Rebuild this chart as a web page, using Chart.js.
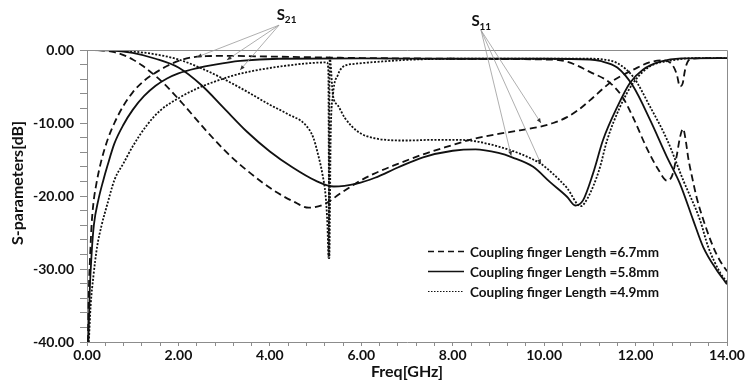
<!DOCTYPE html>
<html>
<head>
<meta charset="utf-8">
<title>S-parameters</title>
<script src="https://cdn.jsdelivr.net/npm/chart.js@4.4.1/dist/chart.umd.min.js"></script>
<style>
  html, body { margin: 0; padding: 0; background: #fff; }
  #wrap { width: 746px; height: 384px; position: relative; }
</style>
</head>
<body>
<div id="wrap"><canvas id="chart-sparams"></canvas></div>
<script>
// values: frequency in GHz, level in dB

// S11, coupling finger 6.7mm (dashed)
const s11LongFreq = [0, 0.3, 0.6, 0.8, 1.0, 1.2, 1.45, 1.7, 2.1, 2.6, 3.1, 3.6, 4.1, 4.5, 4.85, 5.2, 5.53, 5.9, 6.26, 6.8, 7.35, 7.9, 8.44, 9.0, 9.47, 9.91, 10.2, 10.5, 10.75, 11.0, 11.44, 11.7, 11.95, 12.3, 12.6, 12.8, 12.9, 12.97, 13.03, 13.08, 13.14, 13.25, 13.6, 14.0];
const s11LongDb = [0, -0.05, -0.3, -0.7, -1.3, -2.1, -3.3, -4.7, -7.4, -11.0, -14.3, -17.0, -19.3, -20.7, -21.6, -21.1, -19.7, -18.2, -17.0, -15.6, -14.3, -13.2, -12.2, -11.5, -11.0, -10.5, -10.0, -9.2, -8.2, -6.9, -4.5, -3.5, -2.7, -1.7, -1.4, -2.0, -3.3, -5.0, -4.6, -2.8, -1.6, -1.2, -1.1, -1.1];

// S21, coupling finger 6.7mm (dashed)
const s21LongFreq = [0.02, 0.04, 0.07, 0.1, 0.14, 0.2, 0.3, 0.45, 0.6, 0.8, 1.0, 1.25, 1.5, 1.75, 2.0, 2.3, 2.6, 3.0, 4.0, 5.0, 6.0, 7.0, 8.0, 9.0, 10.0, 10.5, 11.0, 11.44, 11.73, 11.95, 12.25, 12.5, 12.69, 12.8, 12.9, 12.97, 13.04, 13.1, 13.15, 13.25, 13.34, 13.5, 13.7, 13.85, 14.0];
const s21LongDb = [-40, -33, -28, -24, -21, -18.5, -15.5, -12.3, -10.0, -7.6, -5.8, -4.2, -3.1, -2.2, -1.5, -1.0, -0.85, -0.8, -0.9, -1.0, -1.1, -1.15, -1.2, -1.25, -1.3, -1.6, -3.0, -4.5, -6.6, -9.3, -13.5, -16.4, -17.9, -17.2, -14.5, -12.0, -10.8, -12.5, -14.7, -17.8, -20.3, -23.6, -27.0, -28.9, -30.3];

// S11, coupling finger 5.8mm (solid)
const s11MidFreq = [0, 0.5, 1.0, 1.5, 2.0, 2.5, 3.0, 3.5, 4.0, 4.5, 5.0, 5.4, 5.9, 6.3, 6.8, 7.35, 8.0, 8.5, 9.0, 9.3, 9.76, 10.13, 10.5, 10.68, 10.85, 11.07, 11.29, 11.6, 11.88, 12.16, 12.54, 13.0, 14.0];
const s11MidDb = [0, -0.05, -0.4, -1.2, -2.4, -4.8, -8.0, -11.2, -13.9, -16.1, -17.9, -18.7, -18.3, -17.5, -16.1, -14.7, -13.8, -13.6, -14.1, -14.7, -16.0, -18.1, -20.1, -21.3, -20.6, -16.9, -12.3, -7.8, -4.5, -2.7, -1.6, -1.15, -1.1];

// S21, coupling finger 5.8mm (solid)
const s21MidFreq = [0.03, 0.06, 0.1, 0.15, 0.25, 0.35, 0.45, 0.6, 0.8, 1.0, 1.25, 1.5, 1.75, 2.0, 2.4, 2.8, 3.35, 4.2, 6.0, 8.0, 10.0, 11.0, 11.22, 11.6, 11.95, 12.32, 12.69, 12.97, 13.26, 13.48, 13.78, 13.92, 14.0];
const s21MidDb = [-40, -33, -28, -24, -20.5, -18.0, -15.8, -12.8, -10.2, -8.2, -6.3, -4.9, -3.9, -3.2, -2.5, -2.0, -1.5, -1.2, -1.15, -1.2, -1.2, -1.3, -1.5, -2.4, -5.0, -9.6, -14.7, -18.3, -23.3, -27.0, -30.2, -31.4, -32.1];

// S11, coupling finger 4.9mm (dotted)
const s11ShortFreq = [0, 0.5, 1.0, 1.5, 2.0, 2.5, 3.0, 3.5, 4.0, 4.4, 4.77, 4.95, 5.05, 5.15, 5.22, 5.26, 5.285, 5.31, 5.38, 5.49, 5.64, 5.93, 6.3, 7.0, 7.6, 8.1, 8.5, 8.8, 9.04, 9.47, 9.93, 10.2, 10.5, 10.8, 10.95, 11.2, 11.38, 11.66, 11.95, 12.3, 12.82, 13.3, 14.0];
const s11ShortDb = [0, -0.03, -0.2, -0.6, -1.3, -2.5, -4.0, -5.7, -7.5, -8.8, -10.2, -12.0, -14.2, -17.0, -20.0, -24.0, -28.5, -1.0, -6.2, -7.6, -9.3, -11.2, -12.1, -12.4, -12.3, -12.3, -12.5, -12.9, -13.3, -14.2, -15.6, -17.0, -18.9, -21.4, -20.3, -16.5, -12.3, -7.8, -4.5, -2.3, -1.4, -1.1, -1.1];

// S21, coupling finger 4.9mm (dotted)
const s21ShortFreq = [0.04, 0.08, 0.14, 0.22, 0.32, 0.45, 0.6, 0.8, 1.0, 1.31, 1.6, 2.03, 2.4, 2.76, 3.2, 3.6, 4.3, 4.88, 5.25, 5.28, 5.3, 5.33, 5.38, 5.49, 5.6, 5.86, 6.4, 7.0, 8.0, 10.0, 11.0, 11.3, 11.6, 11.95, 12.32, 12.69, 13.04, 13.41, 13.59, 13.85, 14.0];
const s21ShortDb = [-40, -35, -31, -27, -24, -21, -17.8, -15.5, -13.2, -10.3, -8.3, -6.5, -5.3, -4.4, -3.5, -2.9, -2.2, -1.8, -1.7, -3.0, -28.5, -12.0, -6.2, -3.4, -2.3, -1.9, -1.6, -1.35, -1.2, -1.2, -1.2, -1.3, -1.8, -3.7, -7.8, -12.3, -17.8, -23.3, -27.0, -30.5, -31.8];

// axis ticks
const xLabelTicks = [0, 2, 4, 6, 8, 10, 12, 14];
const yLabelTicks = [0, -10, -20, -30, -40];

// legend entries (one per finger length)
const legendLabels = ['Coupling finger Length =6.7mm', 'Coupling finger Length =5.8mm', 'Coupling finger Length =4.9mm'];

// callout anchors in data units [GHz, dB]
const s21Callout = { label: [4.24, 4.8], from: [4.2, 3.4], tips: [[2.41, -0.96], [3.06, -1.37], [3.35, -2.74]] };
const s11Callout = { label: [8.5, 3.9], from: [8.62, 2.7], tips: [[9.93, -10.0], [9.28, -14.5], [9.93, -15.6]] };

const INK = '#111111';
const FRAME = '#8c8c8c';
const DASHES = [[7, 4], [], [2, 1.6]];
const LEGEND_DASHES = [[6, 4], [], [1.5, 1.5]];

function toPoints(freq, db) {
    return freq.map(function(f, i) { return { x: f, y: db[i] }; });
}

function line(label, freq, db, styleIndex) {
    return {
        label: label,
        data: toPoints(freq, db),
        borderColor: INK,
        borderWidth: 1.8,
        borderDash: DASHES[styleIndex],
        pointRadius: 0,
        fill: false,
        cubicInterpolationMode: 'monotone'
    };
}

// frame, y title, legend and S11/S21 callouts
const decorPlugin = {
    id: 'decor',
    afterDraw: function(chart) {
        const ctx = chart.ctx;
        const a = chart.chartArea;
        const xs = chart.scales.x;
        const ys = chart.scales.y;
        ctx.save();

        // top and right frame lines
        ctx.strokeStyle = FRAME;
        ctx.lineWidth = 1;
        ctx.setLineDash([]);
        ctx.beginPath();
        ctx.moveTo(a.left, a.top + 0.5);
        ctx.lineTo(a.right + 0.5, a.top + 0.5);
        ctx.lineTo(a.right + 0.5, a.bottom);
        ctx.stroke();

        // y axis title, sits a little above the axis middle
        ctx.save();
        ctx.translate(18, a.top + 133);
        ctx.rotate(-Math.PI / 2);
        ctx.fillStyle = INK;
        ctx.font = 'bold 16px Lato';
        ctx.textAlign = 'center';
        ctx.textBaseline = 'middle';
        ctx.fillText('S-parameters[dB]', 0, 0);
        ctx.restore();

        // legend in the lower right of the plot
        const lx0 = a.left + 341, lx1 = a.left + 377, tx = a.left + 383;
        legendLabels.forEach(function(text, i) {
            const ly = a.top + 201 + i * 20;
            ctx.strokeStyle = INK;
            ctx.lineWidth = i === 2 ? 1.2 : 1.6;
            ctx.setLineDash(LEGEND_DASHES[i]);
            ctx.beginPath();
            ctx.moveTo(lx0, ly + 0.5);
            ctx.lineTo(lx1, ly + 0.5);
            ctx.stroke();
            ctx.setLineDash([]);
            ctx.fillStyle = INK;
            ctx.font = 'bold 14px Lato';
            ctx.textAlign = 'left';
            ctx.textBaseline = 'middle';
            ctx.fillText(text, tx, ly + 1, 189);
        });

        // callouts
        function callout(c, sub) {
            const fx = xs.getPixelForValue(c.from[0]);
            const fy = ys.getPixelForValue(c.from[1]);
            c.tips.forEach(function(t) {
                const px = xs.getPixelForValue(t[0]);
                const py = ys.getPixelForValue(t[1]);
                ctx.strokeStyle = '#9a9a9a';
                ctx.lineWidth = 0.8;
                ctx.setLineDash([]);
                ctx.beginPath();
                ctx.moveTo(fx, fy);
                ctx.lineTo(px, py);
                ctx.stroke();
                // small arrow head
                const ang = Math.atan2(py - fy, px - fx);
                ctx.fillStyle = '#333';
                ctx.beginPath();
                ctx.moveTo(px, py);
                ctx.lineTo(px - 5 * Math.cos(ang - 0.4), py - 5 * Math.sin(ang - 0.4));
                ctx.lineTo(px - 5 * Math.cos(ang + 0.4), py - 5 * Math.sin(ang + 0.4));
                ctx.closePath();
                ctx.fill();
            });
            const sx = xs.getPixelForValue(c.label[0]);
            const sy = ys.getPixelForValue(c.label[1]);
            ctx.fillStyle = INK;
            ctx.textBaseline = 'middle';
            ctx.textAlign = 'center';
            ctx.font = 'bold 15px Lato';
            ctx.fillText('S', sx, sy);
            ctx.textAlign = 'left';
            ctx.font = 'bold 10px Lato';
            ctx.fillText(sub, sx + 4, sy + 5);
        }
        callout(s21Callout, '21');
        callout(s11Callout, '11');

        ctx.restore();
    }
};

document.addEventListener('DOMContentLoaded', function() {
    const ctx = document.getElementById('chart-sparams').getContext('2d');

    new Chart(ctx, {
        type: 'line',
        data: {
            datasets: [
                line('S11 6.7mm', s11LongFreq, s11LongDb, 0),
                line('S21 6.7mm', s21LongFreq, s21LongDb, 0),
                line('S11 5.8mm', s11MidFreq, s11MidDb, 1),
                line('S21 5.8mm', s21MidFreq, s21MidDb, 1),
                line('S11 4.9mm', s11ShortFreq, s11ShortDb, 2),
                line('S21 4.9mm', s21ShortFreq, s21ShortDb, 2)
            ]
        },
        options: {
            responsive: true,
            maintainAspectRatio: false,
            animation: false,
            layout: {
                padding: { left: 0, top: 50, right: 19, bottom: 0 }
            },
            plugins: {
                legend: { display: false },
                tooltip: { enabled: false }
            },
            scales: {
                x: {
                    type: 'linear',
                    min: 0,
                    max: 14,
                    afterBuildTicks: function(axis) {
                        const ticks = [];
                        for (let i = 0; i <= 35; i++) ticks.push({ value: Math.round(i * 4) / 10 });
                        axis.ticks = ticks;
                    },
                    afterFit: function(scale) { scale.height = 42; },
                    grid: { display: true, drawOnChartArea: false, tickLength: 4, color: FRAME, tickColor: FRAME },
                    border: { display: true, color: FRAME, width: 1 },
                    ticks: {
                        autoSkip: false,
                        maxRotation: 0,
                        padding: 1,
                        color: INK,
                        font: { family: 'Lato', size: 14, weight: 'bold' },
                        callback: function(value) {
                            return xLabelTicks.some(function(t) { return Math.abs(t - value) < 1e-6; }) ? value.toFixed(2) : '';
                        }
                    },
                    title: {
                        display: true,
                        text: 'Freq[GHz]',
                        color: INK,
                        font: { family: 'Lato', size: 16, weight: 'bold' },
                        padding: { top: 0, bottom: 3 }
                    }
                },
                y: {
                    min: -40,
                    max: 0,
                    afterBuildTicks: function(axis) {
                        const ticks = [];
                        for (let v = -40; v <= 0; v += 2) ticks.push({ value: v });
                        axis.ticks = ticks;
                    },
                    afterFit: function(scale) { scale.width = 87; },
                    grid: { display: true, drawOnChartArea: false, tickLength: 7, color: FRAME, tickColor: FRAME },
                    border: { display: true, color: FRAME, width: 1 },
                    ticks: {
                        autoSkip: false,
                        padding: 6,
                        color: INK,
                        font: { family: 'Lato', size: 14, weight: 'bold' },
                        callback: function(value) {
                            return yLabelTicks.indexOf(value) >= 0 ? value.toFixed(2) : '';
                        }
                    },
                    title: { display: false }
                }
            }
        },
        plugins: [decorPlugin]
    });
});
</script>
</body>
</html>
